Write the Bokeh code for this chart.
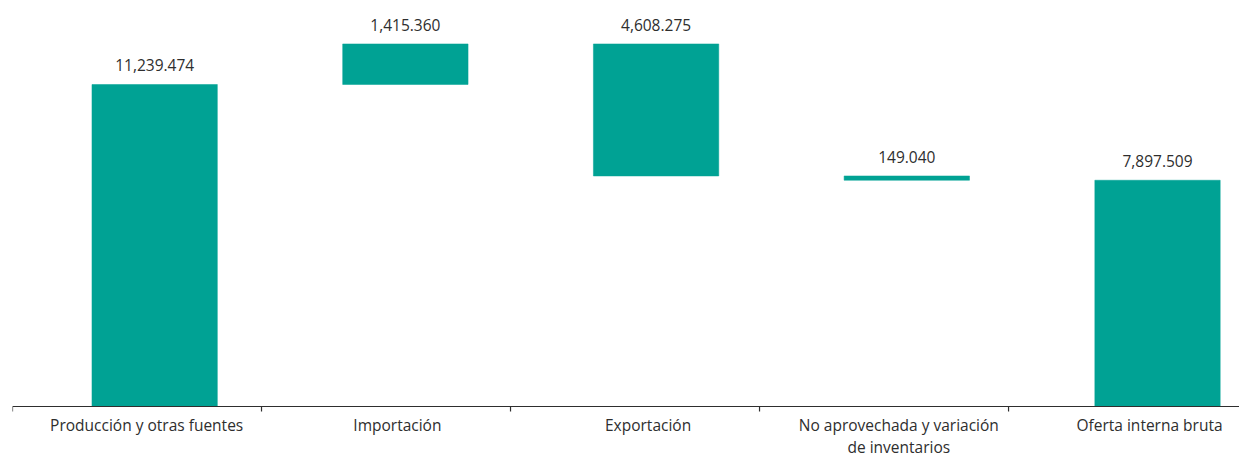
from bokeh.plotting import figure
from bokeh.models import ColumnDataSource, Range1d, Span
from bokeh.core.properties import value
from bokeh.embed import file_html
from bokeh.resources import INLINE

categories = ["Producción y otras fuentes", "Importación", "Exportación",
              "No aprovechada y variación\nde inventarios", "Oferta interna bruta"]
values = [11239.474, 1415.360, -4608.275, -149.040, 7897.509]
is_total = [False, False, False, False, True]
value_labels = ["11,239.474", "1,415.360", "4,608.275", "149.040", "7,897.509"]

bottoms, tops = [], []
running = 0.0
for v, t in zip(values, is_total):
    if t:
        bottoms.append(0.0)
        tops.append(v)
        running = v
    else:
        start = running
        running += v
        bottoms.append(min(start, running))
        tops.append(max(start, running))

xs = list(range(len(categories)))
src = ColumnDataSource(dict(x=xs, bottom=bottoms, top=tops, label=value_labels))
cat_src = ColumnDataSource(dict(x=xs, y=[0] * len(xs), text=categories))

FONT = "Open Sans"
TEAL = "#00A294"
TXT = "#2E2E2E"
FS = "15.5px"

H = 458
X0, X1 = -0.567, 4.327
TICK_STEP = 0.9932
Y0, Y1 = -1815, 14171
PX = (Y1 - Y0) / H  # data units per pixel

p = figure(width=1239, height=H, output_backend="svg", toolbar_location=None,
           x_range=Range1d(X0, X1), y_range=Range1d(Y0, Y1),
           x_axis_type=None, y_axis_type=None,
           min_border_left=12, min_border_right=0, min_border_top=0, min_border_bottom=0)
p.vbar(x="x", bottom="bottom", top="top", width=0.5, source=src,
       fill_color=TEAL, line_color=TEAL, line_width=0.5)
p.text(x="x", y="top", text="label", source=src, text_align="center",
       text_baseline="alphabetic", y_offset=-19, text_font=value(FONT),
       text_font_size=FS, text_color=TXT)

# category axis: baseline, boundary ticks, labels
p.add_layout(Span(location=0, dimension="width", line_color=TXT, line_width=1.2))
tick_x = [X0 + k * TICK_STEP for k in range(5)]
p.segment(x0=tick_x, y0=[0] * 5, x1=tick_x, y1=[-5 * PX] * 5,
          line_color=TXT, line_width=1.2)
p.text(x="x", y="y", text="text", source=cat_src, x_offset=-8, y_offset=7,
       text_align="center", text_baseline="top", text_font=value(FONT),
       text_font_size=FS, text_color=TXT, text_line_height=1.0)

p.outline_line_color = None
p.grid.visible = False

open("out.html", "w").write(file_html(p, INLINE))
